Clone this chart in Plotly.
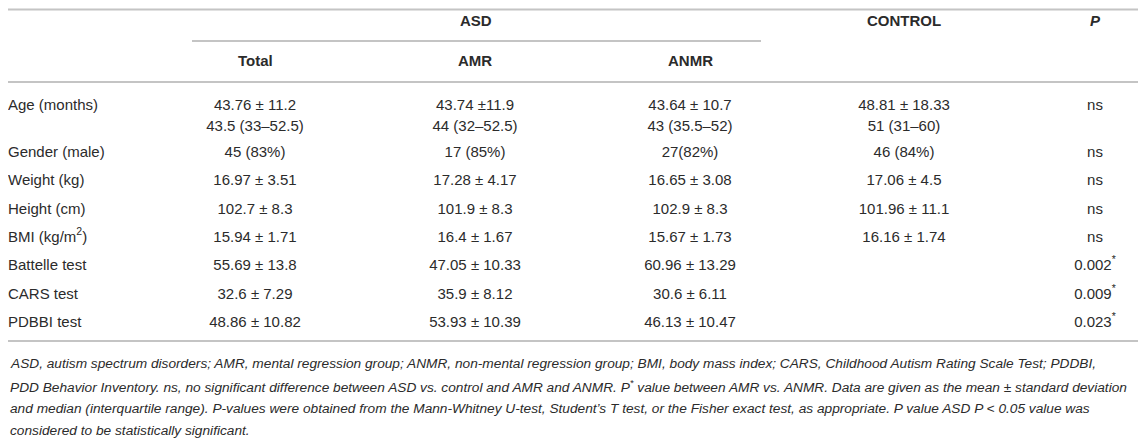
import plotly.graph_objects as go

# table contents
row_labels = ["Age (months)", "", "Gender (male)", "Weight (kg)", "Height (cm)",
              "BMI (kg/m<sup>2</sup>)", "Battelle test", "CARS test", "PDBBI test"]
asd_total = ["43.76 ± 11.2", "43.5 (33–52.5)", "45 (83%)", "16.97 ± 3.51", "102.7 ± 8.3",
             "15.94 ± 1.71", "55.69 ± 13.8", "32.6 ± 7.29", "48.86 ± 10.82"]
asd_amr = ["43.74 ±11.9", "44 (32–52.5)", "17 (85%)", "17.28 ± 4.17", "101.9 ± 8.3",
           "16.4 ± 1.67", "47.05 ± 10.33", "35.9 ± 8.12", "53.93 ± 10.39"]
asd_anmr = ["43.64 ± 10.7", "43 (35.5–52)", "27(82%)", "16.65 ± 3.08", "102.9 ± 8.3",
            "15.67 ± 1.73", "60.96 ± 13.29", "30.6 ± 6.11", "46.13 ± 10.47"]
control = ["48.81 ± 18.33", "51 (31–60)", "46 (84%)", "17.06 ± 4.5", "101.96 ± 11.1",
           "16.16 ± 1.74", "", "", ""]
p_values = ["ns", "", "ns", "ns", "ns", "ns",
            "0.002<sup>*</sup>", "0.009<sup>*</sup>", "0.023<sup>*</sup>"]

footnote = [
    "ASD, autism spectrum disorders; AMR, mental regression group; ANMR, non-mental regression group; "
    "BMI, body mass index; CARS, Childhood Autism Rating Scale Test; PDDBI,",
    "PDD Behavior Inventory. ns, no significant difference between ASD vs. control and AMR and ANMR. "
    "P<sup>*</sup> value between AMR vs. ANMR. Data are given as the mean ± standard deviation",
    "and median (interquartile range). P-values were obtained from the Mann-Whitney U-test, "
    "Student’s T test, or the Fisher exact test, as appropriate. P value ASD P < 0.05 value was",
    "considered to be statistically significant.",
]

W, H = 1146, 439
OFF = 8  # page body margin: the plot div starts at (8, 8)
FONT = "Liberation Sans, Arial, Helvetica, sans-serif"
TXT = "#2b2b2b"
LINE = "#c4c4c4"
FS = 15

row_y = [106, 127, 153, 181, 210, 238, 266, 295, 323]
col_x = {"total": 255, "amr": 475, "anmr": 690, "control": 904, "p": 1095}

fig = go.Figure()

fig.add_trace(go.Scatter(x=[OFF] * len(row_labels), y=row_y, text=row_labels, mode="text",
                         textposition="middle right",
                         textfont=dict(family=FONT, size=FS, color=TXT), hoverinfo="skip"))
for key, col in [("total", asd_total), ("amr", asd_amr), ("anmr", asd_anmr),
                 ("control", control), ("p", p_values)]:
    fig.add_trace(go.Scatter(x=[col_x[key]] * len(col), y=row_y, text=col, mode="text",
                             textposition="middle center",
                             textfont=dict(family=FONT, size=FS, color=TXT), hoverinfo="skip"))

# header texts
headers = [("<b>ASD</b>", 476, 20), ("<b>CONTROL</b>", col_x["control"], 20),
           ("<b><i>P</i></b>", col_x["p"], 20), ("<b>Total</b>", col_x["total"], 60),
           ("<b>AMR</b>", col_x["amr"], 60), ("<b>ANMR</b>", col_x["anmr"], 60)]
for txt, x, y in headers:
    fig.add_annotation(x=x, y=y, text=txt, showarrow=False, xanchor="center", yanchor="middle",
                       font=dict(family=FONT, size=FS, color=TXT))

# footnote
for i, line in enumerate(footnote):
    fig.add_annotation(x=OFF, y=363 + i * 22.5, text="<i>" + line + "</i>", showarrow=False,
                       xanchor="left", yanchor="middle",
                       font=dict(family=FONT, size=13.7, color=TXT))

# rules
for x0, x1, y in [(0, 1141, OFF + 1.5), (192, 761, 41), (0, 1141, 82), (0, 1141, 341)]:
    fig.add_shape(type="line", x0=x0, x1=x1, y0=y, y1=y, line=dict(color=LINE, width=2))

fig.update_xaxes(range=[OFF, W], visible=False, fixedrange=True)
fig.update_yaxes(range=[H, OFF], visible=False, fixedrange=True)
fig.update_layout(width=W - OFF, height=H - OFF, margin=dict(l=0, r=0, t=0, b=0),
                  plot_bgcolor="white", paper_bgcolor="white", showlegend=False)

fig.write_html("out.html")
